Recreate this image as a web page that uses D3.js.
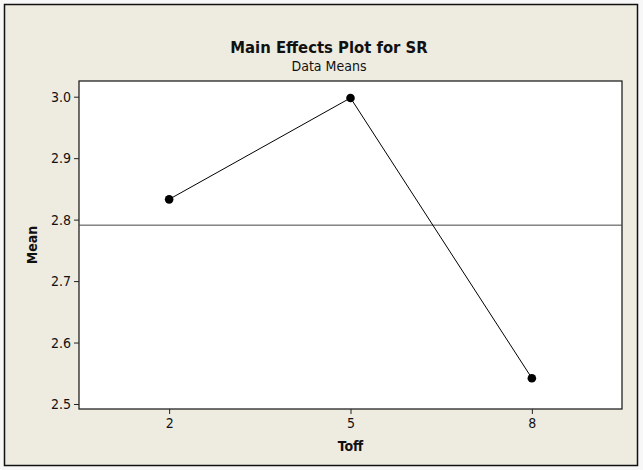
<!DOCTYPE html>
<html><head><meta charset="utf-8">
<script src="https://cdn.jsdelivr.net/npm/d3@7"></script>
<style>
html,body{margin:0;padding:0;background:#f7f7f7;}
svg{display:block;}
</style></head>
<body>
<script>
const categories = ["2", "5", "8"];
const means = [2.833, 2.998, 2.542];
const yTicks = [2.5, 2.6, 2.7, 2.8, 2.9, 3.0];
const titleText = "Main Effects Plot for SR";
const subtitleText = "Data Means";
const xLabel = "Toff";
const yLabel = "Mean";

const W = 643, H = 470;
const plot = {left: 79, right: 622, top: 81, bottom: 409};
const font = "'DejaVu Sans Condensed', 'DejaVu Sans', sans-serif";

const svg = d3.select("body").append("svg").attr("width", W).attr("height", H);

svg.append("rect").attr("x", 4.5).attr("y", 4.5).attr("width", 633).attr("height", 461)
  .attr("fill", "#eeebe1").attr("stroke", "#111").attr("stroke-width", 1.5);

const x = d3.scalePoint().domain(categories).range([plot.left, plot.right]).padding(0.497);
const y = d3.scaleLinear().domain([2.5, 3.0]).range([404, 96.7]);

svg.append("rect").attr("x", plot.left).attr("y", plot.top)
  .attr("width", plot.right - plot.left).attr("height", plot.bottom - plot.top)
  .attr("fill", "#ffffff").attr("stroke", "#111").attr("stroke-width", 1.2);

// axes
const yAxis = svg.append("g").attr("transform", `translate(${plot.left},0)`)
  .call(d3.axisLeft(y).tickValues(yTicks).tickFormat(d3.format(".1f")).tickSize(5).tickPadding(3));
const xAxis = svg.append("g").attr("transform", `translate(0,${plot.bottom})`)
  .call(d3.axisBottom(x).tickSize(5).tickPadding(4));
[yAxis, xAxis].forEach(g => {
  g.select(".domain").remove();
  g.selectAll("line").attr("stroke", "#222");
  g.selectAll("text").attr("fill", "#111").style("font-family", font).style("font-size", "14px");
});

// mean reference line
const grand = d3.mean(means);
svg.append("line").attr("x1", plot.left).attr("x2", plot.right)
  .attr("y1", y(grand)).attr("y2", y(grand))
  .attr("stroke", "#444").attr("stroke-width", 1);

// data line + points
const pts = categories.map((c, i) => ({c, v: means[i]}));
svg.append("path").datum(pts)
  .attr("d", d3.line().x(d => x(d.c)).y(d => y(d.v)))
  .attr("fill", "none").attr("stroke", "#000").attr("stroke-width", 1);
svg.selectAll("circle.pt").data(pts).join("circle").attr("class", "pt")
  .attr("cx", d => x(d.c)).attr("cy", d => y(d.v)).attr("r", 4.3).attr("fill", "#000");

// titles
svg.append("text").attr("x", 329).attr("y", 53).attr("text-anchor", "middle")
  .style("font-family", font).style("font-weight", "bold").style("font-size", "16.5px")
  .attr("fill", "#111").text(titleText);
svg.append("text").attr("x", 329).attr("y", 71).attr("text-anchor", "middle")
  .style("font-family", font).style("font-size", "14px")
  .attr("fill", "#111").text(subtitleText);
svg.append("text").attr("x", x("5")).attr("y", 451).attr("text-anchor", "middle")
  .style("font-family", font).style("font-weight", "bold").style("font-size", "14px")
  .attr("fill", "#111").text(xLabel);
svg.append("text").attr("transform", `translate(37,${(plot.top + plot.bottom) / 2}) rotate(-90)`)
  .attr("text-anchor", "middle")
  .style("font-family", font).style("font-weight", "bold").style("font-size", "14px")
  .attr("fill", "#111").text(yLabel);
</script>
</body></html>
